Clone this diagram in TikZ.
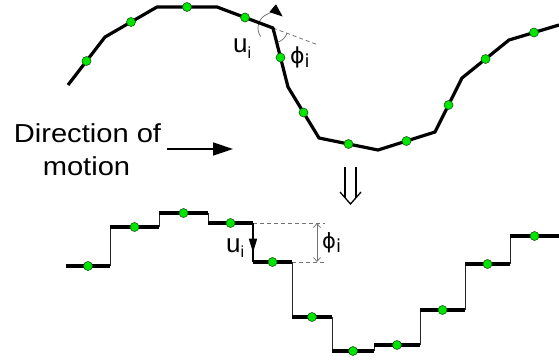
\documentclass[tikz,border=0pt]{standalone}
\usepackage{fontspec}
\setmainfont{Liberation Sans}
\newfontfamily\labfont[FakeStretch=1.12]{Liberation Sans}
\newfontfamily\phifont{DejaVu Sans}
\usetikzlibrary{arrows.meta,calc}
\definecolor{dotgreen}{RGB}{0,230,0}
\definecolor{dotedge}{RGB}{20,90,20}
\newcommand\lowi[2]{\raisebox{-#1}{\fontsize{#2}{#2}\selectfont i}}
\begin{document}
\begin{tikzpicture}[x=1pt,y=-1pt,
  thickline/.style={line width=3.2pt,line join=round},
  riser/.style={line width=0.9pt,black!85},
  dotnode/.style={circle,fill=dotgreen,draw=dotedge,line width=0.6pt,minimum size=9pt,inner sep=0pt},
  guide/.style={black!55,line width=0.8pt,dash pattern=on 4pt off 3pt},
  anglearc/.style={black!60,line width=0.7pt},
  lab/.style={inner sep=0pt,anchor=base west}]
\useasboundingbox (0,0) rectangle (559,360);
% ---- top polyline
\coordinate (p1) at (68,85);
\coordinate (p2) at (105,37);
\coordinate (p3) at (157,7);
\coordinate (p4) at (217,7);
\coordinate (p5) at (273,28);
\coordinate (p6) at (288,87);
\coordinate (p7) at (319,138);
\coordinate (p8) at (378,150);
\coordinate (p9) at (435,132);
\coordinate (p10) at (462,78);
\coordinate (p11) at (509,40);
\coordinate (p12) at (559,25);
% angle guides at p5
\coordinate (ext) at ($(p5)!-0.8!(p4)$);
\draw[guide] (p5) -- (ext);
\draw[anglearc] ([shift={(20.6:15)}]p5) arc[start angle=20.6,end angle=75.7,radius=15];
\draw[anglearc,-{Triangle[length=13pt,width=10pt,color=black,fill=black]}] ([shift={(145:15)}]p5) arc[start angle=145,end angle=310,radius=15];
\draw[thickline] (p1) -- (p2) -- (p3) -- (p4) -- (p5) -- (p6) -- (p7) -- (p8) -- (p9) -- (p10) -- (p11) -- (p12);
\foreach \a/\b [count=\k] in {p1/p2,p2/p3,p3/p4,p4/p5,p5/p6,p6/p7,p7/p8,p8/p9,p9/p10,p10/p11,p11/p12}
  \node[dotnode] (d\k) at ($(\a)!0.5!(\b)$) {};
\node[lab] (ut) at (233,52) {\fontsize{26}{26}\selectfont u\lowi{6pt}{16}};
\node[lab] (pt) at (290,63) {\phifont\fontsize{22}{22}\selectfont ϕ\lowi{4pt}{18}};
% ---- direction of motion
\node[inner sep=0pt,anchor=base] (dir1) at (87.5,142) {\labfont\fontsize{26}{26}\selectfont Direction of};
\node[inner sep=0pt,anchor=base] (dir2) at (86.5,175) {\labfont\fontsize{26}{26}\selectfont motion};
\coordinate (a1) at (167,149);
\coordinate (a2) at (233,149);
\draw[line width=1.5pt,-{Triangle[length=20pt,width=13pt]}] (a1) -- (a2);
% ---- implies arrow
\coordinate (i1) at (345,167);
\coordinate (i2) at (345,197.5);
\coordinate (i3) at (356,167);
\coordinate (i4) at (356,197.5);
\coordinate (c1) at (340,192);
\coordinate (c2) at (350.5,204);
\coordinate (c3) at (361,192);
\draw[line width=1.3pt] (i1) -- (i2) (i3) -- (i4);
\draw[line width=1.3pt,line join=miter] (c1) -- (c2) -- (c3);
% ---- staircase
\coordinate (q0) at (66,266);
\coordinate (q1) at (110,266);
\coordinate (q2) at (110,227);
\coordinate (q3) at (159,227);
\coordinate (q4) at (159,213);
\coordinate (q5) at (208,213);
\coordinate (q6) at (208,223);
\coordinate (q7) at (253,223);
\coordinate (q8) at (253,262);
\coordinate (q9) at (292,262);
\coordinate (q10) at (292,317);
\coordinate (q11) at (332,317);
\coordinate (q12) at (332,351);
\coordinate (q13) at (374,351);
\coordinate (q14) at (374,345);
\coordinate (q15) at (420,345);
\coordinate (q16) at (420,310);
\coordinate (q17) at (465,310);
\coordinate (q18) at (465,264);
\coordinate (q19) at (510,264);
\coordinate (q20) at (510,236);
\coordinate (q21) at (559,236);
% guides
\coordinate (h1) at (325,223);
\coordinate (h2) at (325,262);
\coordinate (m1) at (317,223);
\coordinate (m2) at (317,262);
\draw[guide] (q7) -- (h1);
\draw[guide] (q9) -- (h2);
\draw[black!55,line width=0.7pt,{Straight Barb[length=4pt,width=7pt]}-{Straight Barb[length=4pt,width=7pt]}] (m1) -- (m2);
% risers
\foreach \a/\b in {q1/q2,q3/q4,q5/q6,q9/q10,q11/q12,q13/q14,q15/q16,q17/q18,q19/q20}
  \draw[riser] (\a) -- (\b);
\draw[line width=1.6pt] (q7) -- (q8);
\draw[line width=1.6pt,-{Triangle[length=14pt,width=8pt]}] (q7) -- ($(q7)!0.76!(q8)$);
% treads
\foreach \a/\b in {q0/q1,q2/q3,q4/q5,q6/q7,q8/q9,q10/q11,q12/q13,q14/q15,q16/q17,q18/q19,q20/q21}
  \draw[thickline] (\a) -- (\b);
\foreach \a/\b [count=\k] in {q0/q1,q2/q3,q4/q5,q6/q7,q8/q9,q10/q11,q12/q13,q14/q15,q16/q17,q18/q19,q20/q21}
  \node[dotnode] (e\k) at ($(\a)!0.5!(\b)$) {};
\node[lab] (ub) at (226,252) {\fontsize{26}{26}\selectfont u\lowi{5pt}{16}};
\node[lab] (pb) at (322,248) {\phifont\fontsize{21}{21}\selectfont ϕ\lowi{4pt}{18}};
\end{tikzpicture}
\end{document}
